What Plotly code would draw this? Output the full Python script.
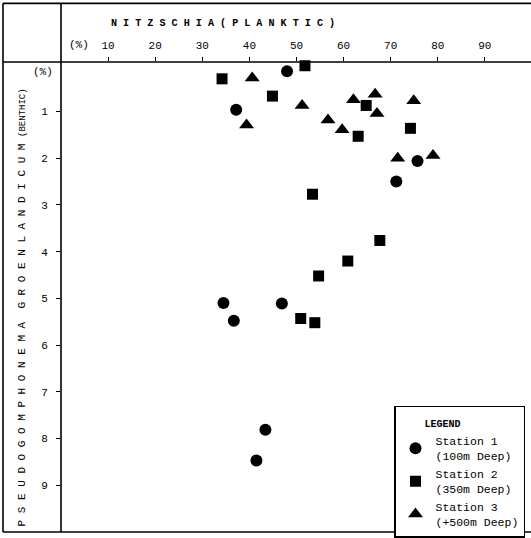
import plotly.graph_objects as go

# ---- data ----
st1_x = [48.0, 37.2, 75.7, 71.2, 34.5, 46.9, 36.7, 43.4, 41.5]
st1_y = [0.14, 0.96, 2.06, 2.50, 5.10, 5.11, 5.48, 7.81, 8.47]

st2_x = [34.2, 51.8, 44.9, 64.8, 63.1, 74.2, 53.4, 67.7, 60.9, 54.7, 50.9, 53.9]
st2_y = [0.30, 0.02, 0.67, 0.87, 1.53, 1.36, 2.77, 3.76, 4.20, 4.52, 5.43, 5.52]

st3_x = [40.6, 51.2, 39.4, 62.1, 66.7, 67.1, 56.7, 59.7, 74.9, 71.5, 79.0]
st3_y = [0.28, 0.87, 1.29, 0.75, 0.63, 1.04, 1.18, 1.39, 0.77, 2.00, 1.94]

x_ticks = [10, 20, 30, 40, 50, 60, 70, 80, 90]
y_ticks = [1, 2, 3, 4, 5, 6, 7, 8, 9]
series_names = ["Station 1<br>(100m Deep)", "Station 2<br>(350m Deep)", "Station 3<br>(+500m Deep)"]

W, H = 531, 538
ML, MR, MT, MB = 61, 0, 62, 3
PW, PH = W - ML - MR, H - MT - MB
FONT = "Liberation Mono"


def px(xp):
    return (xp - ML) / PW


def py(yp):
    return (H - MB - yp) / PH


fig = go.Figure()
for xs, ys, sym, size, name in [
    (st1_x, st1_y, "circle", 12, series_names[0]),
    (st2_x, st2_y, "square", 11, series_names[1]),
    (st3_x, st3_y, "triangle-up", 13, series_names[2]),
]:
    fig.add_trace(go.Scatter(
        x=xs, y=ys, mode="markers", name=name, legendgroup=name,
        marker=dict(symbol=sym, size=size, color="black", line=dict(width=0)),
        cliponaxis=False,
    ))

lw = 1.6
lines = [
    (3, 3, 531, 3),       # top frame
    (3, 535, 531, 535),   # bottom frame
    (3, 3, 3, 535),       # left frame
    (3, 62, 531, 62),     # top axis line
    (61, 3, 61, 535),     # left axis line
]
shapes = []
for x0, y0, x1, y1 in lines:
    shapes.append(dict(type="line", xref="paper", yref="paper",
                       x0=px(x0), y0=py(y0), x1=px(x1), y1=py(y1),
                       line=dict(color="black", width=lw)))

annotations = [
    dict(text="<b>N I T Z S C H I A ( P L A N K T I C )</b>", xref="paper", yref="paper",
         x=px(223), y=py(23), showarrow=False, xanchor="center", yanchor="middle",
         font=dict(family=FONT, size=10.1, color="black")),
    dict(text="(%)", xref="paper", yref="paper", x=px(79), y=py(45),
         showarrow=False, xanchor="center", yanchor="middle",
         font=dict(family=FONT, size=11, color="black")),
    dict(text="(%)", xref="paper", yref="paper", x=px(43), y=py(72),
         showarrow=False, xanchor="center", yanchor="middle",
         font=dict(family=FONT, size=11, color="black")),
    dict(text="P S E U D O G O M P H O N E M A  G R O E N L A N D I C U M "
              "<span style='font-size:9px'>(BENTHIC)</span>",
         xref="paper", yref="paper", x=px(22), y=py(309), textangle=-90,
         showarrow=False, xanchor="center", yanchor="middle",
         font=dict(family=FONT, size=11, color="black")),
]

fig.update_layout(
    width=W, height=H,
    margin=dict(l=ML, r=MR, t=MT, b=MB, pad=0),
    paper_bgcolor="white", plot_bgcolor="white",
    shapes=shapes, annotations=annotations,
    xaxis=dict(range=[0, 99.8], side="top", tickvals=x_ticks, ticks="outside",
               ticklen=4, tickwidth=1.3, tickcolor="black", showgrid=False,
               zeroline=False, showline=False, ticklabelstandoff=4,
               tickfont=dict(family=FONT, size=11, color="black")),
    yaxis=dict(range=[10.0, -0.06], tickvals=y_ticks, ticks="outside",
               ticklen=4, tickwidth=1.3, tickcolor="black", showgrid=False,
               zeroline=False, showline=False, ticklabelstandoff=6,
               tickfont=dict(family=FONT, size=11, color="black")),
    showlegend=True,
    legend=dict(x=px(394), y=py(408), xanchor="left", yanchor="top",
                bordercolor="black", borderwidth=1.5, bgcolor="white",
                title=dict(text="\u00a0\u00a0\u00a0<span style='font-size:10px'><b>LEGEND</b></span>",
                           font=dict(family=FONT, size=15, color="black")),
                font=dict(family=FONT, size=11.5, color="black"),
                traceorder="grouped", tracegroupgap=0, itemsizing="trace"),
)

fig.write_html(
    "out.html",
    config={"displayModeBar": False},
    post_script="document.body.style.margin='0';document.body.style.overflow='hidden';",
)
